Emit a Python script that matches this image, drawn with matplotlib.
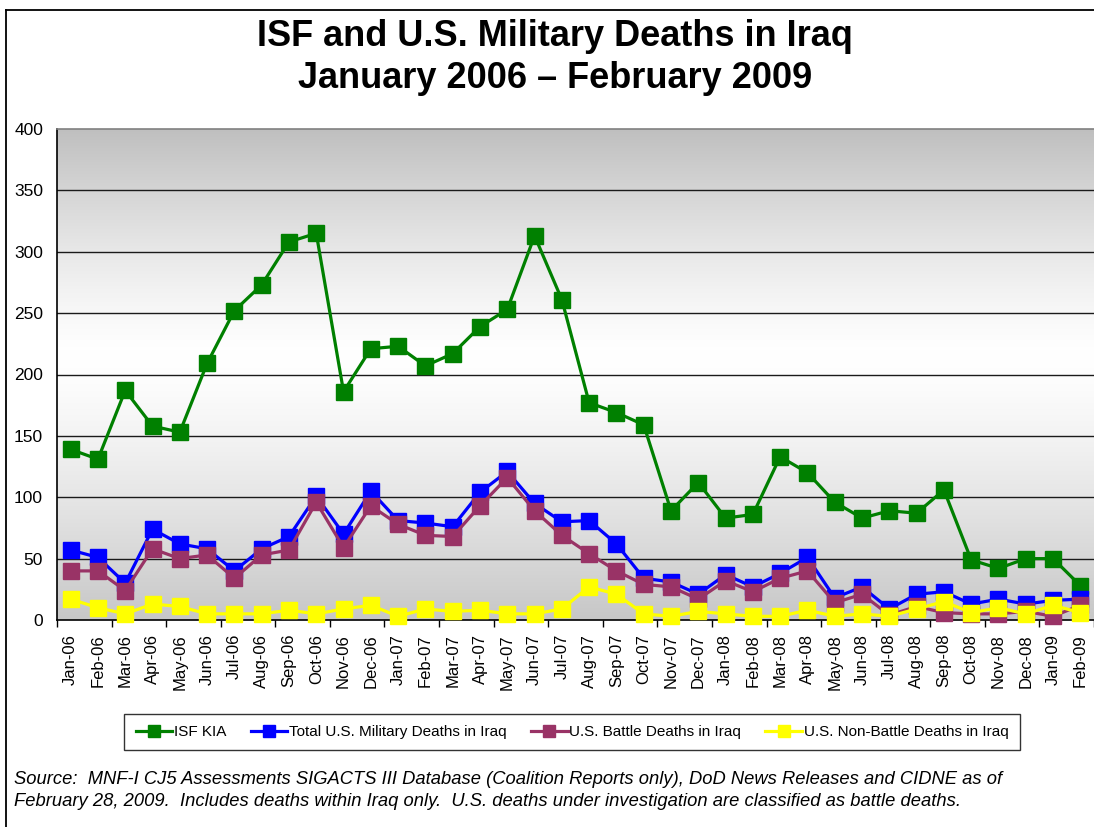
import numpy as np
import matplotlib
matplotlib.use("Agg")
import matplotlib.pyplot as plt
from matplotlib import font_manager
from matplotlib.lines import Line2D

months = ["Jan-06","Feb-06","Mar-06","Apr-06","May-06","Jun-06","Jul-06","Aug-06","Sep-06","Oct-06",
          "Nov-06","Dec-06","Jan-07","Feb-07","Mar-07","Apr-07","May-07","Jun-07","Jul-07","Aug-07",
          "Sep-07","Oct-07","Nov-07","Dec-07","Jan-08","Feb-08","Mar-08","Apr-08","May-08","Jun-08",
          "Jul-08","Aug-08","Sep-08","Oct-08","Nov-08","Dec-08","Jan-09","Feb-09"]

isf_kia = [139,131,187,158,153,209,252,273,308,315,
           186,221,223,207,217,239,253,313,261,177,
           169,159,89,112,83,86,133,120,96,83,
           89,87,106,49,42,50,50,28]
us_total = [57,51,30,74,62,58,40,58,68,101,
            70,105,81,79,76,104,121,95,80,81,
            62,34,31,21,37,27,38,51,18,27,
            9,21,23,13,17,13,16,17]
us_battle = [40,40,24,58,50,53,34,53,57,96,
             59,93,78,69,68,93,116,89,69,54,
             40,29,27,17,32,23,34,40,14,21,
             4,11,6,5,5,7,3,12]
us_nonbattle = [17,10,5,13,11,5,5,5,8,5,
                9,12,3,9,7,8,5,5,9,27,
                21,5,3,7,5,3,3,8,3,5,
                3,9,15,6,10,5,12,6]

series_names = ["ISF KIA", "Total U.S. Military Deaths in Iraq",
                "U.S. Battle Deaths in Iraq", "U.S. Non-Battle Deaths in Iraq"]
series_colors = ["#008000", "#0000FF", "#993366", "#FFFF00"]
y_ticks = [0, 50, 100, 150, 200, 250, 300, 350, 400]

avail = {f.name for f in font_manager.fontManager.ttflist}
base_font = "Liberation Sans" if "Liberation Sans" in avail else "DejaVu Sans"
narrow_font = "Liberation Sans Narrow" if "Liberation Sans Narrow" in avail else base_font
plt.rcParams["font.family"] = [base_font, "DejaVu Sans"]

W, H = 1094, 827
fig = plt.figure(figsize=(W/100, H/100), dpi=100)
fig.patch.set_facecolor("white")

# outer frame (top and left only)
fig.add_artist(Line2D([6/W, 1.0], [1-9.5/H, 1-9.5/H], transform=fig.transFigure,
                      color="black", lw=1.3))
fig.add_artist(Line2D([6/W, 6/W], [0.0, 1-9.5/H], transform=fig.transFigure,
                      color="black", lw=1.3))

ax = fig.add_axes([57/W, 1-620/H, (W-57)/W, 491/H])

# gradient background
vals = np.linspace(0, 400, 400)
def shade(v):
    peak = 215.0
    if v >= peak:
        t = (v - peak) / (400 - peak)
        lo = 0.75
    else:
        t = (peak - v) / peak
        lo = 0.78
    return 1 - (1 - lo) * (t ** 1.3)
g = np.array([shade(v) for v in vals])[:, None]
img = np.repeat(g[:, :, None], 3, axis=2)
ax.imshow(img, extent=[-0.5, len(months)-0.5, 0, 400], origin="lower",
          aspect="auto", zorder=0, interpolation="bilinear")

x = np.arange(len(months))
data = [isf_kia, us_total, us_battle, us_nonbattle]
for vals_s, col, name in zip(data, series_colors, series_names):
    ax.plot(x, vals_s, color=col, lw=2.3, marker="s", markersize=11.5,
            markerfacecolor=col, markeredgecolor=col, zorder=3, label=name, clip_on=False)

ax.set_xlim(-0.5, len(months)-0.5)
ax.set_ylim(0, 400)
for yv in y_ticks[1:-1]:
    ax.axhline(yv, color="#1a1a1a", lw=1.0, zorder=1)

ax.set_yticks(y_ticks)
ax.set_yticklabels([str(v) for v in y_ticks], fontsize=12.5)
ax.tick_params(axis="y", length=0, pad=10)

ax.set_xticks(x)
ax.set_xticklabels(months, rotation=90, fontsize=12)
ax.tick_params(axis="x", which="major", length=0, pad=10)
ax.set_xticks(np.arange(-0.5, len(months), 2), minor=True)
ax.tick_params(axis="x", which="minor", length=5, width=1, color="black", direction="out")

for s in ["left", "bottom"]:
    ax.spines[s].set_color("black")
    ax.spines[s].set_linewidth(1.2)
ax.spines["top"].set_color("#808080")
ax.spines["top"].set_linewidth(1.2)
ax.spines["right"].set_visible(False)

fig.text(555/W, 1-37/H, "ISF and U.S. Military Deaths in Iraq", ha="center", va="center",
         fontsize=26, fontweight="bold")
fig.text(555/W, 1-79/H, "January 2006 \u2013 February 2009", ha="center", va="center",
         fontsize=26, fontweight="bold")

handles = [Line2D([0], [0], color=c, lw=2.3, marker="s", markersize=8,
                  markerfacecolor=c, markeredgecolor=c) for c in series_colors]
leg = fig.legend(handles, series_names, loc="center", bbox_to_anchor=(572/W, 1-732/H),
                 ncol=4, frameon=True, fancybox=False, edgecolor="black",
                 prop={"family": narrow_font, "size": 11}, handlelength=2.4,
                 handletextpad=0.1, columnspacing=1.6, borderpad=0.75)
leg.get_frame().set_linewidth(1.0)

fig.text(14/W, 1-779/H,
         "Source:  MNF-I CJ5 Assessments SIGACTS III Database (Coalition Reports only), DoD News Releases and CIDNE as of",
         ha="left", va="center", fontsize=13.2, style="italic")
fig.text(14/W, 1-802/H,
         "February 28, 2009.  Includes deaths within Iraq only.  U.S. deaths under investigation are classified as battle deaths.",
         ha="left", va="center", fontsize=13.2, style="italic")

fig.savefig("out.png", dpi=100)
